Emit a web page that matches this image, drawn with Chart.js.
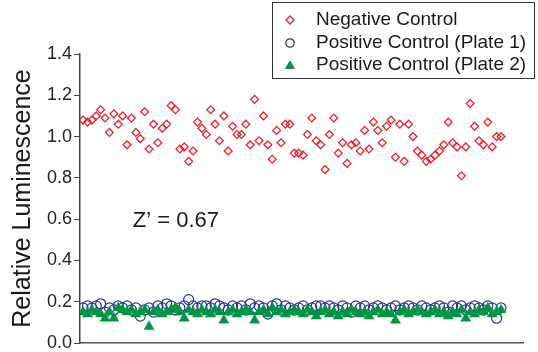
<!DOCTYPE html>
<html lang="en">
<head>
<meta charset="UTF-8">
<title>Relative Luminescence</title>
<style>
  html, body { margin: 0; padding: 0; background: #fff; }
  canvas { display: block; }
</style>
<script src="https://cdn.jsdelivr.net/npm/chart.js"></script>
</head>
<body>
<canvas id="chart" width="538" height="352"></canvas>
<script>
// Series names (legend order)
const seriesNames = ['Negative Control', 'Positive Control (Plate 1)', 'Positive Control (Plate 2)'];

// Well values, 96 per series
const negativeControl = [
  1.08, 1.07, 1.08, 1.10, 1.13, 1.09, 1.02, 1.11, 1.06, 1.10,
  0.96, 1.09, 1.02, 0.99, 1.12, 0.94, 1.06, 0.97, 1.04, 1.06,
  1.15, 1.13, 0.94, 0.95, 0.88, 0.93, 1.07, 1.04, 1.01, 1.13,
  1.06, 0.98, 1.10, 0.93, 1.05, 1.01, 1.01, 1.06, 0.96, 1.18,
  0.98, 1.10, 0.96, 0.89, 1.03, 0.97, 1.06, 1.06, 0.92, 0.92,
  0.91, 1.01, 1.09, 0.98, 0.96, 0.84, 1.01, 1.09, 0.92, 0.97,
  0.87, 0.96, 0.97, 0.93, 1.03, 0.94, 1.07, 1.03, 0.97, 1.05,
  1.08, 0.90, 1.06, 0.88, 1.06, 1.00, 0.93, 0.91, 0.88, 0.89,
  0.91, 0.93, 0.96, 1.07, 0.97, 0.95, 0.81, 0.95, 1.16, 1.05,
  0.98, 0.96, 1.07, 0.95, 1.00, 1.00
];
const positivePlate1 = [
  0.17, 0.18, 0.17, 0.18, 0.19, 0.15, 0.17, 0.16, 0.18, 0.17,
  0.18, 0.16, 0.17, 0.13, 0.16, 0.17, 0.15, 0.18, 0.17, 0.19,
  0.18, 0.16, 0.17, 0.18, 0.21, 0.18, 0.17, 0.18, 0.18, 0.17,
  0.19, 0.18, 0.17, 0.16, 0.18, 0.17, 0.18, 0.16, 0.19, 0.17,
  0.18, 0.17, 0.14, 0.18, 0.19, 0.16, 0.18, 0.17, 0.16, 0.17,
  0.18, 0.16, 0.17, 0.18, 0.18, 0.17, 0.18, 0.17, 0.16, 0.18,
  0.17, 0.15, 0.18, 0.17, 0.18, 0.16, 0.17, 0.18, 0.17, 0.16,
  0.17, 0.18, 0.16, 0.17, 0.18, 0.17, 0.16, 0.18, 0.17, 0.16,
  0.17, 0.18, 0.17, 0.15, 0.18, 0.17, 0.18, 0.16, 0.17, 0.18,
  0.17, 0.16, 0.18, 0.17, 0.12, 0.17
];
const positivePlate2 = [
  0.15, 0.14, 0.16, 0.15, 0.14, 0.12, 0.15, 0.12, 0.17, 0.16,
  0.15, 0.16, 0.14, 0.15, 0.16, 0.08, 0.15, 0.16, 0.14, 0.15,
  0.16, 0.17, 0.15, 0.12, 0.16, 0.15, 0.14, 0.16, 0.15, 0.14,
  0.16, 0.15, 0.11, 0.15, 0.16, 0.14, 0.15, 0.16, 0.15, 0.11,
  0.15, 0.16, 0.14, 0.17, 0.15, 0.16, 0.14, 0.15, 0.16, 0.15,
  0.14, 0.16, 0.15, 0.13, 0.15, 0.16, 0.14, 0.15, 0.13, 0.15,
  0.14, 0.16, 0.15, 0.14, 0.15, 0.13, 0.15, 0.16, 0.14, 0.15,
  0.14, 0.11, 0.15, 0.16, 0.14, 0.15, 0.16, 0.15, 0.14, 0.15,
  0.16, 0.14, 0.15, 0.13, 0.15, 0.14, 0.16, 0.12, 0.15, 0.14,
  0.16, 0.15, 0.17, 0.14, 0.15, 0.16
];

// Y axis ticks and the annotation
const yTicks = [0, 0.2, 0.4, 0.6, 0.8, 1.0, 1.2, 1.4];
const zLabel = 'Z\u2019 = 0.67';

const FONT = '"Liberation Sans", Arial, Helvetica, sans-serif';
const RED = '#ec2027', BLUE = '#2e3192', GREEN = '#009444';

// well number -> {x, y}
const toPoints = arr => arr.map((v, i) => ({ x: i + 1, y: v }));

// Draws the boxed legend and the Z' text on top of the plot
const overlayPlugin = {
  id: 'overlay',
  afterDraw(chart) {
    const ctx = chart.ctx;
    const xs = chart.scales.x, ys = chart.scales.y;
    ctx.save();

    // Z' label
    ctx.font = '22px ' + FONT;
    ctx.fillStyle = '#1a1a1a';
    ctx.textBaseline = 'middle';
    ctx.textAlign = 'left';
    ctx.fillText(zLabel, xs.getPixelForValue(12.3), ys.getPixelForValue(0.59));

    // legend box
    ctx.fillStyle = '#fff';
    ctx.fillRect(272.5, 2.5, 262, 76);
    ctx.strokeStyle = '#333';
    ctx.lineWidth = 1;
    ctx.strokeRect(272.5, 2.5, 262, 76);

    const styles = [
      { pointStyle: 'rectRot', radius: 4, borderWidth: 1.3, stroke: RED, fill: 'rgba(0,0,0,0)' },
      { pointStyle: 'circle', radius: 4.2, borderWidth: 1.3, stroke: BLUE, fill: 'rgba(0,0,0,0)' },
      { pointStyle: 'triangle', radius: 5, borderWidth: 1, stroke: GREEN, fill: GREEN }
    ];
    const rowsY = [20, 43, 65];
    ctx.font = '19px ' + FONT;
    seriesNames.forEach((name, i) => {
      const s = styles[i];
      ctx.strokeStyle = s.stroke;
      ctx.fillStyle = s.fill;
      ctx.lineWidth = s.borderWidth;
      Chart.helpers.drawPoint(ctx, { pointStyle: s.pointStyle, radius: s.radius, rotation: 0, borderWidth: s.borderWidth }, 290, rowsY[i] + (i === 2 ? 1 : 0));
      ctx.fillStyle = '#1a1a1a';
      ctx.fillText(name, 316, rowsY[i]);
    });
    ctx.restore();
  }
};

new Chart(document.getElementById('chart'), {
  type: 'scatter',
  data: {
    datasets: [
      {
        label: seriesNames[0],
        data: toPoints(negativeControl),
        pointStyle: 'rectRot',
        pointRadius: 3.9,
        pointBorderWidth: 1.3,
        borderColor: RED,
        backgroundColor: 'rgba(0,0,0,0)',
        order: 2
      },
      {
        label: seriesNames[1],
        data: toPoints(positivePlate1),
        pointStyle: 'circle',
        pointRadius: 5,
        pointBorderWidth: 1.2,
        borderColor: BLUE,
        backgroundColor: 'rgba(0,0,0,0)',
        order: 1
      },
      {
        label: seriesNames[2],
        data: toPoints(positivePlate2),
        pointStyle: 'triangle',
        pointRadius: 5.8,
        pointBorderWidth: 0.5,
        borderColor: GREEN,
        backgroundColor: GREEN,
        order: 0
      }
    ]
  },
  options: {
    responsive: false,
    animation: false,
    events: [],
    layout: { padding: { left: 0, right: 15, top: 54, bottom: 0 } },
    plugins: {
      legend: { display: false },
      tooltip: { enabled: false }
    },
    scales: {
      x: {
        type: 'linear',
        min: 0.3,
        max: 101,
        ticks: { display: false },
        grid: { display: false, drawTicks: false },
        border: { display: true, color: '#555', width: 1.5 },
        afterFit(scale) {
          scale.height = 9;
          scale.paddingLeft = 0; scale.paddingRight = 0;
        }
      },
      y: {
        min: 0,
        max: 1.4,
        afterBuildTicks(scale) { scale.ticks = yTicks.map(v => ({ value: v })); },
        ticks: {
          callback: v => v.toFixed(1),
          font: { family: FONT, size: 18 },
          color: '#222',
          padding: 2
        },
        grid: { drawOnChartArea: false, drawTicks: true, tickLength: 6, color: '#444', lineWidth: 1 },
        border: { display: true, color: '#444', width: 1.5 },
        title: {
          display: true,
          text: 'Relative Luminescence',
          font: { family: FONT, size: 25 },
          color: '#1a1a1a',
          padding: { top: 8, bottom: 0 }
        },
        afterFit(scale) {
          scale.width = 80;
          scale.paddingTop = 0; scale.paddingBottom = 0;
        }
      }
    }
  },
  plugins: [overlayPlugin]
});
</script>
</body>
</html>
